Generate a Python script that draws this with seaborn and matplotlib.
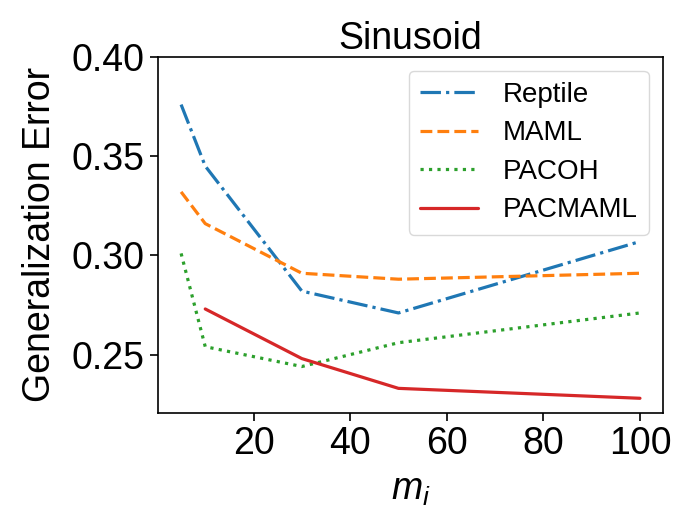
import matplotlib
matplotlib.use("Agg")
import matplotlib.pyplot as plt
import pandas as pd
import seaborn as sns

# data
m_values = [5, 10, 30, 50, 100]
reptile = [0.376, 0.345, 0.282, 0.271, 0.307]
maml = [0.332, 0.316, 0.291, 0.288, 0.291]
pacoh = [0.301, 0.254, 0.244, 0.256, 0.271]
m_pacmaml = [10, 30, 50, 100]
pacmaml = [0.273, 0.248, 0.233, 0.228]

sns.set_style("ticks")
plt.rcParams['font.family'] = ['Liberation Sans', 'DejaVu Sans']
plt.rcParams['mathtext.fontset'] = 'custom'
plt.rcParams['mathtext.it'] = 'Liberation Sans:italic'
plt.rcParams['mathtext.rm'] = 'Liberation Sans'
for key in ['text.color', 'axes.labelcolor', 'xtick.color', 'ytick.color']:
    plt.rcParams[key] = 'black'

pal = sns.color_palette("tab10")

fig = plt.figure(figsize=(6.73, 5.13), dpi=100)
ax = fig.add_axes([0.235, 0.195, 0.75, 0.694])

series = [
    ("Reptile", m_values, reptile, pal[0], "-."),
    ("MAML", m_values, maml, pal[1], "--"),
    ("PACOH", m_values, pacoh, pal[2], ":"),
    ("PACMAML", m_pacmaml, pacmaml, pal[3], "-"),
]
for name, xs, ys, col, ls in series:
    df = pd.DataFrame({"m": xs, "err": ys})
    sns.lineplot(data=df, x="m", y="err", ax=ax, color=col, linestyle=ls,
                 linewidth=2.3, label=name)

ax.set_ylim(top=0.40)
ax.set_xticks([20, 40, 60, 80, 100])
ax.set_yticks([0.25, 0.30, 0.35, 0.40])
ax.tick_params(labelsize=27, length=6, width=1.2, color="black", labelcolor="black")
for s in ax.spines.values():
    s.set_color("black")
    s.set_linewidth(1.2)
    s.set_visible(True)

ax.set_title("Sinusoid", fontsize=27, pad=5)
ax.set_xlabel("$m_i$", fontsize=27, labelpad=7)
ax.set_ylabel("Generalization Error", fontsize=27, labelpad=10)

leg = ax.legend(loc="upper right", fontsize=20, frameon=True, handlelength=2.1,
                borderpad=0.4, labelspacing=0.45, handletextpad=0.9)
leg.get_frame().set_edgecolor("#d0d0d0")

fig.savefig("out.png", dpi=100)
plt.close(fig)
